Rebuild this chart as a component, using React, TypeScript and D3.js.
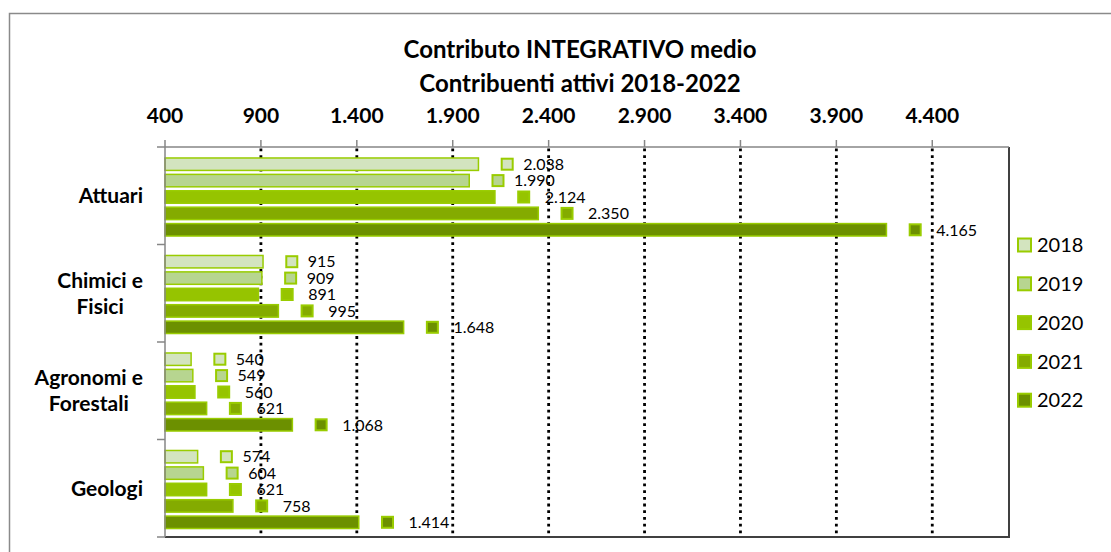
import React, { useEffect, useRef } from "react";
import * as d3 from "d3";

const categories = ["Attuari", "Chimici e Fisici", "Agronomi e Forestali", "Geologi"];
const categoryLines = [["Attuari"], ["Chimici e", "Fisici"], ["Agronomi e", "Forestali"], ["Geologi"]];
const years = ["2018", "2019", "2020", "2021", "2022"];
const values2018 = [2038, 915, 540, 574];
const values2019 = [1990, 909, 549, 604];
const values2020 = [2124, 891, 560, 621];
const values2021 = [2350, 995, 621, 758];
const values2022 = [4165, 1648, 1068, 1414];
const seriesValues = [values2018, values2019, values2020, values2021, values2022];
const tickValues = [400, 900, 1400, 1900, 2400, 2900, 3400, 3900, 4400];
const titleLines = ["Contributo INTEGRATIVO medio", "Contribuenti attivi 2018-2022"];

const fills = ["#d3e4bf", "#b7d590", "#96c400", "#84ab00", "#6c9000"];
const strokeGreen = "#99cc00";
const labelDx = [16, 16, 21, 21, 21];
const FONT = "Lato, 'Noto Sans', sans-serif";

export default function App() {
  const ref = useRef<SVGSVGElement>(null);

  useEffect(() => {
    const svg = d3.select(ref.current);
    svg.selectAll("*").remove();

    const W = 1111, H = 552;
    const left = 165, right = 1009, top = 147, bottom = 537;
    const it = d3.formatLocale({ decimal: ",", thousands: ".", grouping: [3], currency: ["", "€"] });
    const fmt = it.format(",d");

    const x = d3.scaleLinear().domain([400, 4800]).range([left, right]);
    const yCat = d3.scaleBand().domain(categories).range([top, bottom]).paddingInner(0).paddingOuter(0);
    const yIn = d3.scaleBand().domain(years).range([9, 91]).paddingInner(0.15).paddingOuter(0.075);

    svg.append("rect").attr("width", W).attr("height", H).attr("fill", "#fff");
    // outer chart border
    svg.append("rect").attr("x", 9.5).attr("y", 13.5).attr("width", 1200).attr("height", 700)
      .attr("fill", "none").attr("stroke", "#8a8a8a").attr("stroke-width", 1.5);

    // title
    const title = svg.append("text").attr("text-anchor", "middle").attr("font-family", FONT)
      .attr("font-weight", "bold").attr("font-size", 24).attr("fill", "#000");
    titleLines.forEach((t, i) => {
      title.append("tspan").attr("x", 580).attr("y", 58 + i * 34).text(t);
    });

    // gridlines
    svg.append("g").selectAll("line").data(tickValues.filter(v => v !== 400)).join("line")
      .attr("x1", d => x(d)).attr("x2", d => x(d)).attr("y1", top + 1.5).attr("y2", bottom)
      .attr("stroke", "#000").attr("stroke-width", 2.8).attr("stroke-dasharray", "2.8,3.9");

    // plot border right/bottom
    svg.append("path").attr("d", `M${right},${top}V${bottom}H${left}`)
      .attr("fill", "none").attr("stroke", "#404040").attr("stroke-width", 2);

    // top axis
    const gx = svg.append("g");
    gx.append("line").attr("x1", left).attr("x2", right).attr("y1", top).attr("y2", top)
      .attr("stroke", "#868686").attr("stroke-width", 1.5);
    gx.selectAll("line.t").data(tickValues).join("line").attr("class", "t")
      .attr("x1", d => x(d)).attr("x2", d => x(d)).attr("y1", top - 7).attr("y2", top)
      .attr("stroke", "#868686").attr("stroke-width", 1.5);
    gx.selectAll("text").data(tickValues).join("text")
      .attr("x", d => x(d)).attr("y", 123).attr("text-anchor", "middle")
      .attr("font-family", FONT).attr("font-weight", "bold").attr("font-size", 21).attr("fill", "#000")
      .text(d => fmt(d));

    // bars
    const gb = svg.append("g");
    seriesValues.forEach((vals, si) => {
      const yr = years[si];
      categories.forEach((c, ci) => {
        const v = vals[ci];
        const y0 = (yCat(c) as number) + (yIn(yr) as number);
        const h = yIn.bandwidth();
        gb.append("rect").attr("x", left).attr("y", y0 + 0.75).attr("width", x(v) - left - 0.75)
          .attr("height", h - 1.5).attr("fill", fills[si]).attr("stroke", strokeGreen).attr("stroke-width", 1.5);
        const cx = x(v) + 28;
        const cy = y0 + h / 2;
        gb.append("rect").attr("x", cx - 5.5).attr("y", cy - 5.5).attr("width", 11).attr("height", 11)
          .attr("fill", fills[si]).attr("stroke", strokeGreen).attr("stroke-width", 2);
        gb.append("text").attr("x", cx + labelDx[si]).attr("y", cy).attr("dy", "0.36em")
          .attr("font-family", FONT).attr("font-size", 16).attr("fill", "#000").text(fmt(v));
      });
    });

    // left axis
    const gy = svg.append("g");
    gy.append("line").attr("x1", left).attr("x2", left).attr("y1", top).attr("y2", bottom)
      .attr("stroke", "#868686").attr("stroke-width", 1.5);
    const bounds = categories.map(c => yCat(c) as number).concat([bottom]);
    gy.selectAll("line.t").data(bounds).join("line").attr("class", "t")
      .attr("x1", left - 8).attr("x2", left).attr("y1", d => d).attr("y2", d => d)
      .attr("stroke", "#868686").attr("stroke-width", 1.5);

    categories.forEach((c, ci) => {
      const lines = categoryLines[ci];
      const cy = (yCat(c) as number) + yCat.bandwidth() / 2;
      const g = gy.append("g");
      const texts = lines.map((l, li) => g.append("text")
        .attr("y", cy + (li - (lines.length - 1) / 2) * 26).attr("dy", "0.36em")
        .attr("text-anchor", "middle").attr("font-family", FONT).attr("font-weight", "bold")
        .attr("font-size", 21).attr("fill", "#000").text(l));
      const maxW = d3.max(texts, t => (t.node() as SVGTextElement).getComputedTextLength()) || 0;
      texts.forEach(t => t.attr("x", 143 - maxW / 2));
    });

    // legend
    const gl = svg.append("g");
    years.forEach((yr, i) => {
      const cy = 245 + i * 38.8;
      gl.append("rect").attr("x", 1018).attr("y", cy - 6.5).attr("width", 13).attr("height", 13)
        .attr("fill", fills[i]).attr("stroke", strokeGreen).attr("stroke-width", 2);
      gl.append("text").attr("x", 1037).attr("y", cy).attr("dy", "0.36em")
        .attr("font-family", FONT).attr("font-size", 20).attr("fill", "#000").text(yr);
    });
  }, []);

  return (
    <svg ref={ref} width={1111} height={552}
      style={{ position: "absolute", left: 0, top: 0, display: "block" }} />
  );
}
